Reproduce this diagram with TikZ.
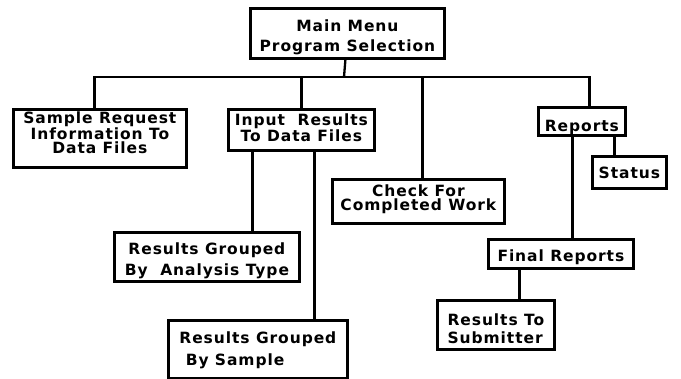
\documentclass[tikz,border=0pt]{standalone}
\usepackage{fontspec}
\newfontfamily\chartfont[LetterSpace=6]{DejaVu Sans Bold}
\newcommand\lead[1]{\fontsize{15.5}{#1}\selectfont}
\usetikzlibrary{positioning}

\begin{document}
\begin{tikzpicture}[x=1pt, y=-1pt,
  font=\chartfont\lead{13},
  box/.style={draw, line width=2.8pt, align=center, inner sep=1pt, anchor=north west},
  sz/.style n args={3}{minimum width=#1, text height=#2, text depth=#3},
  ln/.style={line width=2.3pt}]
\useasboundingbox (0,0) rectangle (681,379);
% top level
\node[box, sz={194pt}{42pt}{6pt}, font=\chartfont\lead{20}] (main) at (249,7) {Main Menu\\Program Selection};
\node[box, sz={173pt}{43pt}{13pt}, font=\chartfont\lead{14}] (req) at (12,108) {Sample Request\\Information To\\Data Files};
\node[box, sz={146pt}{31pt}{8pt}, font=\chartfont\lead{14}] (input) at (227,108) {Input \ Results\\To Data Files};
\node[box, sz={172pt}{30pt}{12pt}, font=\chartfont\lead{14}] (check) at (331,178) {Check For\\Completed Work};
\node[box, sz={87pt}{23pt}{3pt}] (reports) at (537,106) {Reports};
% second level
\node[box, sz={185pt}{42pt}{5pt}, font=\chartfont\lead{21}] (bytype) at (113,231) {Results Grouped\\By \ Analysis Type};
\node[box, sz={179pt}{44pt}{12pt}, font=\chartfont\lead{22}, align=left] (bysample) at (167,319) {Results Grouped\\\ By Sample};
\node[box, sz={74pt}{21pt}{9pt}] (status) at (591,155) {Status};
\node[box, sz={145pt}{21pt}{6pt}] (final) at (487,238) {Final Reports};
\node[box, sz={117pt}{42pt}{5pt}, font=\chartfont\lead{18}, align=left] (submit) at (436,299) {Results To\\Submitter};
% connectors
\coordinate (bar) at (344,77);
\coordinate (i1) at ([xshift=-49pt]input.south);
\coordinate (i2) at ([xshift=13pt]input.south);
\coordinate (r1) at ([xshift=-9.5pt]reports.south);
\coordinate (r2) at ([xshift=32.5pt]reports.south);
\coordinate (f1) at ([xshift=-41.5pt]final.south);
\draw[ln] ([xshift=-2pt]main.south) -- (bar);
\draw[ln] ([xshift=-5.5pt]req.north) |- (bar) -| ([xshift=7.5pt]reports.north);
\draw[ln] (input.north) -- (input.north |- bar);
\draw[ln] ([xshift=4pt]check.north) -- ([xshift=4pt]check.north |- bar);
\draw[ln] (i1) -- (i1 |- bytype.north);
\draw[ln] (i2) -- (i2 |- bysample.north);
\draw[ln] (r1) -- (r1 |- final.north);
\draw[ln] (r2) -- (r2 |- status.north);
\draw[ln] (f1) -- (f1 |- submit.north);
\end{tikzpicture}
\end{document}
